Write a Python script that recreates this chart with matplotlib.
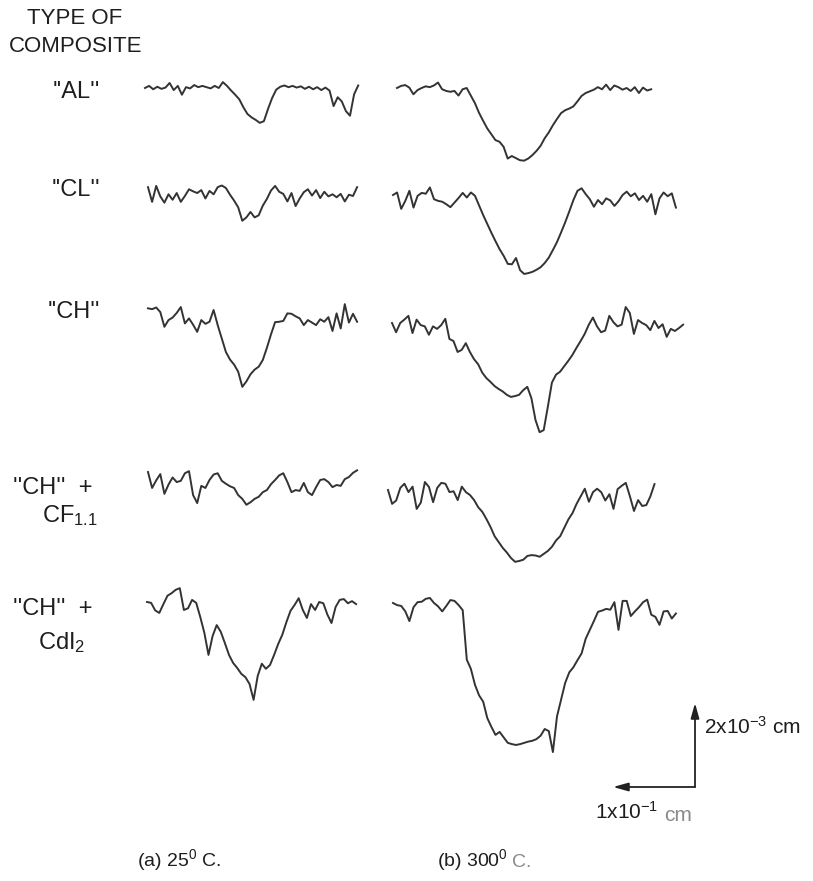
import matplotlib
matplotlib.use("Agg")
import matplotlib.pyplot as plt
from matplotlib import font_manager
import numpy as np

# pick a narrow sans if one is installed
names = {f.name for f in font_manager.fontManager.ttflist}
narrow = [n for n in ['DejaVu Sans Condensed', 'Liberation Sans Narrow', 'Liberation Sans']
          if n in names][0]
plt.rcParams['font.family'] = [narrow, 'DejaVu Sans']
plt.rcParams['mathtext.fontset'] = 'custom'
plt.rcParams['mathtext.rm'] = narrow
plt.rcParams['mathtext.it'] = narrow

# Surface profiles, height in micrometres, sampled every 0.05 mm along the trace
STEP_MM = 0.05

al_25 = [0, 0.5, -0.3, 0.3, -0.2, 0.1, 1.2, -0.5, 0.5, -1.6, 0.2, -0.1, 0.7, 0.2, 0.5, 0.2,
         -0.1, 0.5, 0.0, 1.4, 0.5, -0.6, -1.6, -2.7, -4.6, -6.2, -7.0, -7.6, -8.3, -7.9, -5.0,
         -2.4, -0.4, 0.3, 0.6, 0.2, 0.5, 0.1, 0.4, -0.2, 0.3, -0.3, 0.2, -0.5, 0.1, -0.6, -4.3,
         -2.2, -3.2, -5.5, -6.6, -1.5, 0.6]
al_300 = [0, 0.5, 0.7, 0.1, -1.5, -0.5, 0.0, 0.4, 0.2, 0.6, 1.3, -0.3, -0.7, -0.9, -0.7, -1.8,
          -0.3, 0.0, -1.8, -3.6, -5.9, -7.8, -9.6, -11.0, -12.4, -12.8, -14.0, -16.8, -16.2,
          -16.7, -17.2, -17.3, -16.8, -16.0, -15.0, -13.8, -12.0, -10.6, -8.9, -7.4, -6.0, -5.3,
          -4.9, -4.4, -3.2, -1.9, -1.2, -0.8, -0.4, 0.2, -0.3, 0.8, -0.5, 0.6, 0.2, -0.4, 0.0,
          -0.7, 0.2, -1.2, 0.1, -0.6, -0.3]
cl_25 = [0.2, -3.3, 0.5, -2.0, -3.5, -1.5, -2.8, -1.2, -3.3, -1.9, -0.3, -0.8, -1.2, -0.5, -2.5,
         -0.7, -1.5, 0.2, 0.6, 0.0, -1.6, -3.0, -4.6, -7.8, -7.0, -5.7, -7.0, -6.5, -4.2, -2.6,
         -0.6, 0.5, -0.9, -1.4, -3.2, -1.2, -4.3, -2.5, -1.0, -0.3, -1.8, -0.5, -2.4, -0.9, -2.0,
         -1.5, -2.2, -1.4, -3.2, -1.6, -1.9, 0.2]
cl_300 = [0, 0.6, -3.3, -1.4, 1.0, -3.0, -0.2, 0.5, 0.3, 1.8, -1.0, -1.4, -1.6, -2.2, -2.9, -1.8,
          -0.7, 0.5, -0.6, 0.6, -0.2, -2.5, -4.8, -6.9, -9.0, -11.0, -12.9, -14.5, -16.4, -16.5,
          -15.0, -17.9, -18.8, -18.6, -18.3, -17.8, -17.2, -16.2, -14.9, -13.1, -11.2, -8.9,
          -6.5, -3.9, -1.2, 1.0, 1.6, 0.2, -1.0, -2.8, -1.2, -2.2, -0.8, -1.3, -2.6, -1.5, 0.0,
          0.8, -0.3, 0.4, -1.2, -0.2, -1.6, 0.2, -4.6, -0.8, 0.6, -0.3, 0.4, -3.0]
ch_25 = [0.4, 0.2, 0.6, -0.5, -4.0, -2.4, -1.8, -0.7, 0.7, -3.2, -2.0, -3.5, -5.2, -2.4, -3.3,
         -2.8, 0.0, -3.6, -6.8, -10.0, -11.8, -13.0, -14.7, -18.3, -17.0, -15.3, -14.2, -13.5,
         -11.9, -9.0, -5.8, -2.9, -2.8, -2.6, -0.8, -0.9, -1.5, -2.0, -3.6, -2.4, -3.0, -3.6,
         -2.2, -2.8, -1.7, -5.0, -0.8, -4.4, 1.4, -3.0, -0.9, -2.8]
ch_300 = [0, -2.2, 0.0, 0.8, 1.7, -2.4, 0.8, -0.5, -0.8, -2.8, -0.8, -1.4, -0.5, 1.0, -3.8, -4.3,
          -6.9, -6.4, -4.8, -6.9, -8.6, -9.8, -11.8, -13.1, -14.0, -15.0, -15.7, -16.3, -17.1,
          -17.6, -17.4, -17.1, -16.0, -15.2, -17.9, -23.1, -26.0, -25.5, -20.0, -14.2, -12.3,
          -11.6, -10.3, -9.0, -7.6, -5.9, -4.3, -2.6, -0.4, 1.3, -0.8, -2.2, -1.8, 1.7, 0.2,
          -0.8, -0.4, 3.8, 2.4, -2.6, 0.7, 0.0, -0.5, -1.7, 0.5, -1.2, -0.3, -3.3, -1.4, -1.9,
          -1.2, -0.4]
cf_25 = [0, -3.8, -2.0, -0.5, -5.2, -3.0, -1.3, -2.4, -2.1, -0.3, 0.2, -5.5, -7.4, -3.3, -3.8,
         -1.9, -0.6, -0.3, -2.1, -2.8, -3.4, -3.8, -5.5, -6.4, -7.8, -7.2, -6.4, -5.9, -4.8, -4.3,
         -2.9, -1.9, -0.8, -0.3, -2.4, -4.8, -4.3, -4.5, -2.6, -4.8, -5.5, -3.6, -1.9, -1.7, -2.4,
         -3.6, -3.1, -3.3, -1.7, -1.2, -0.2, 0.4]
cf_300 = [0, -3.3, -2.5, 0.5, 1.5, -0.5, 0.8, -4.5, -3.0, 1.9, 0.7, -2.9, 0.5, 1.7, 1.5, -0.5,
          -0.3, -2.4, 0.8, -0.5, -1.2, -2.4, -4.1, -5.2, -6.9, -8.8, -11.0, -12.4, -13.8, -14.9,
          -16.2, -17.1, -16.9, -16.6, -15.7, -15.5, -15.6, -15.9, -15.2, -14.5, -13.5, -12.0,
          -11.0, -9.0, -7.0, -5.5, -3.3, -1.5, 0.3, -2.8, -0.5, 0.3, -0.5, -2.5, -1.0, -4.5, 0.2,
          1.0, 1.7, -1.5, -5.0, -2.4, -3.8, -3.6, -1.5, 1.4]
cdi_25 = [0, -0.2, -2.0, -2.6, -0.5, 1.5, 2.1, 2.9, 3.3, -1.9, -1.5, 0.5, -0.2, -3.6, -7.4, -12.6,
          -8.1, -5.5, -7.1, -9.8, -12.6, -14.5, -15.7, -17.1, -17.9, -19.5, -23.3, -17.6, -14.7,
          -15.9, -15.0, -12.6, -10.0, -7.8, -4.8, -2.1, -0.7, 0.9, -1.9, -3.8, -0.5, -1.9, 0.0,
          -0.3, -3.0, -5.0, -1.2, 0.5, 0.7, -0.3, 0.2, -0.5]
cdi_300 = [0, -0.5, -0.7, -2.0, -4.3, -1.0, 0.2, 0.3, 1.0, 1.2, 0.0, -0.8, -2.0, -0.7, 0.7, 0.5,
           -0.5, -1.7, -13.5, -15.7, -19.5, -22.0, -23.5, -27.4, -29.5, -31.4, -30.7, -32.0,
           -33.3, -33.6, -33.8, -33.6, -33.3, -33.0, -32.8, -32.4, -31.6, -30.0, -30.5, -35.5,
           -27.0, -23.0, -19.0, -16.5, -15.3, -13.6, -12.0, -8.5, -6.4, -4.3, -2.1, -1.8, -1.4,
           -1.6, 0.2, -6.4, 0.5, 0.5, -3.1, -2.0, -1.0, 0.2, 0.8, -2.8, -3.3, -5.2, -2.0, -1.9,
           -3.7, -2.5]

composites = ["''AL''", "''CL''", "''CH''"]

# figure geometry (pixels) and drawing scale
W, H = 813, 881
PX_PER_MM = 82.0
PX_PER_UM = 4.2


def at(xp, yp):
    return xp / PX_PER_MM, (H - yp) / PX_PER_UM


# start point of each trace on the page, in pixels
layout = [
    (al_25, 145, 88), (al_300, 397, 88),
    (cl_25, 148, 188), (cl_300, 393, 195),
    (ch_25, 148, 310), (ch_300, 392, 323),
    (cf_25, 148, 472), (cf_300, 388, 490),
    (cdi_25, 147, 602), (cdi_300, 393, 603),
]

fig = plt.figure(figsize=(W / 100, H / 100), dpi=100)
ax = fig.add_axes([0, 0, 1, 1])
ax.set_xlim(0, W / PX_PER_MM)
ax.set_ylim(0, H / PX_PER_UM)
ax.axis('off')

for h, xp, yp in layout:
    x0, y0 = at(xp, yp)
    x = x0 + np.arange(len(h)) * STEP_MM
    ax.plot(x, y0 + np.array(h), color='#333333', lw=1.4, solid_joinstyle='round')

tc = '#1e1e1e'
gray = '#8a8a8a'
ax.text(*at(75, 19), "TYPE OF", ha='center', va='center', fontsize=16, color=tc)
ax.text(*at(76, 47), "COMPOSITE", ha='center', va='center', fontsize=16, color=tc)
for lab, yp in zip(composites, [92, 190, 312]):
    ax.text(*at(100, yp), lab, ha='right', va='center', fontsize=17, color=tc)
ax.text(*at(13, 488), "''CH''  +", ha='left', va='center', fontsize=17, color=tc)
ax.text(*at(42, 516), r"CF$_{\mathrm{1.1}}$", ha='left', va='center', fontsize=17, color=tc)
ax.text(*at(13, 609), "''CH''  +", ha='left', va='center', fontsize=17, color=tc)
ax.text(*at(38, 643), r"CdI$_{\mathrm{2}}$", ha='left', va='center', fontsize=17, color=tc)

ax.text(*at(137, 860), r"(a) 25$^{\mathrm{0}}$ C.", ha='left', va='center', fontsize=14, color=tc)
tb = ax.text(*at(437, 860), r"(b) 300$^{\mathrm{0}}$", ha='left', va='center', fontsize=14,
             color=tc)
ax.annotate("C.", xy=(1, 0.42), xycoords=tb, xytext=(3, 0), textcoords='offset points',
            ha='left', va='center', fontsize=14, color=gray)

# scale bar: 1x10^-1 cm horizontal, 2x10^-3 cm vertical
cx, cy = at(695, 787)
arrow = dict(arrowstyle='-|>,head_length=0.9,head_width=0.25', color='#222222', lw=1.3,
             shrinkA=0, shrinkB=0)
ax.annotate('', xy=(cx, cy + 20.0), xytext=(cx, cy), arrowprops=arrow)
ax.annotate('', xy=(cx - 1.0, cy), xytext=(cx, cy), arrowprops=arrow)
ax.text(*at(704, 727), r"2x10$^{\mathrm{-3}}$ cm", ha='left', va='center', fontsize=15, color=tc)
ts = ax.text(*at(595, 812), r"1x10$^{\mathrm{-1}}$", ha='left', va='center', fontsize=15,
             color=tc)
ax.annotate("cm", xy=(1, 0.35), xycoords=ts, xytext=(4, 0), textcoords='offset points',
            ha='left', va='center', fontsize=15, color=gray)

fig.savefig("out.png", dpi=100)
